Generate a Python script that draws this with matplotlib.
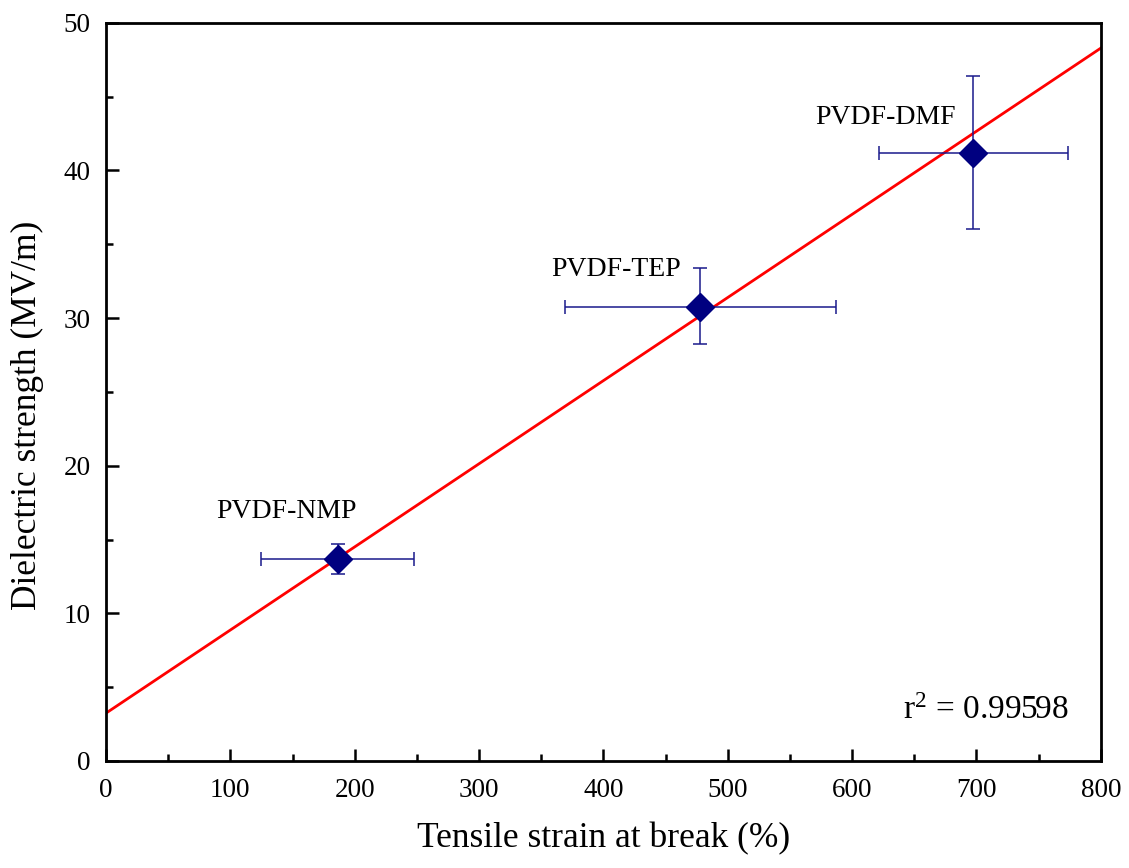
import matplotlib.pyplot as plt
import numpy as np

# valores
rotulos = ['PVDF-NMP', 'PVDF-TEP', 'PVDF-DMF']
deformacao = [186.8, 477.6, 697.3]
def_err_baixo = [62.4, 108.6, 75.5]
def_err_cima = [61.1, 109.3, 76.2]
rigidez = [13.66, 30.77, 41.15]
rig_err_baixo = [1.0, 2.55, 5.15]
rig_err_cima = [1.02, 2.6, 5.25]
pos_rotulo_x = [145.5, 410, 626.7]
pos_rotulo_y = [16.9, 33.3, 43.55]

# reta de ajuste
interc = 3.24
incl = 0.0563
r2 = 0.99598

plt.rcParams['font.family'] = ['Liberation Serif', 'DejaVu Serif']
plt.rcParams['mathtext.fontset'] = 'custom'
plt.rcParams['mathtext.rm'] = 'Liberation Serif'
plt.rcParams['mathtext.it'] = 'Liberation Serif:italic'

fig = plt.figure(figsize=(11.29, 8.68), dpi=100)
ax = fig.add_axes([0.0939, 0.1233, 0.975 - 0.0939, 0.9738 - 0.1233])

xs = np.array([0, 800])
ax.plot(xs, interc + incl * xs, color='#ff0000', linewidth=2.0, zorder=2)

ax.errorbar(deformacao, rigidez,
            xerr=[def_err_baixo, def_err_cima],
            yerr=[rig_err_baixo, rig_err_cima],
            fmt='D', color='#000080', ecolor='#1a1a8c', markersize=14,
            elinewidth=1.1, capsize=5, capthick=1.1, zorder=3)

for i in range(len(rotulos)):
    ax.text(pos_rotulo_x[i], pos_rotulo_y[i], rotulos[i], fontsize=20,
            ha='center', va='center')

ax.text(707.7, 3.4, r'$\mathrm{r}^{2}$ = ' + str(r2), fontsize=24, ha='center', va='center')

ax.set_xlim(0, 800)
ax.set_ylim(0, 50)
ax.set_xticks(range(0, 801, 100))
ax.set_xticks(range(50, 800, 100), minor=True)
ax.set_yticks(range(0, 51, 10))
ax.set_yticks(range(5, 50, 10), minor=True)
ax.tick_params(which='major', direction='in', length=9, width=1.8, labelsize=19.5)
ax.tick_params(axis='x', which='major', pad=12)
ax.tick_params(axis='y', which='major', pad=11)
ax.tick_params(which='minor', direction='in', length=5, width=1.8)
for s in ax.spines.values():
    s.set_linewidth(2.0)

ax.set_xlabel('Tensile strain at break (%)', fontsize=25.5, labelpad=14)
ax.set_ylabel('Dielectric strength (MV/m)', fontsize=25.5)
ax.yaxis.set_label_coords(-0.062, 0.4686)

fig.savefig('out.png', dpi=100)
